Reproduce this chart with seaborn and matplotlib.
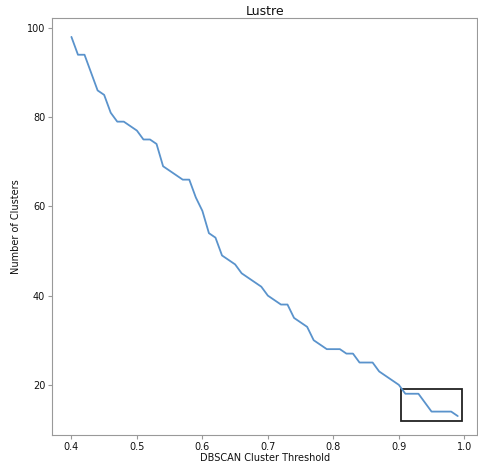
import matplotlib
matplotlib.use('Agg')
import matplotlib.pyplot as plt
from matplotlib.patches import Rectangle
import numpy as np
import pandas as pd
import seaborn as sns

# thresholds 0.40 .. 0.99
thresholds = [0.40, 0.41, 0.42, 0.43, 0.44, 0.45, 0.46, 0.47, 0.48, 0.49,
              0.50, 0.51, 0.52, 0.53, 0.54, 0.55, 0.56, 0.57, 0.58, 0.59,
              0.60, 0.61, 0.62, 0.63, 0.64, 0.65, 0.66, 0.67, 0.68, 0.69,
              0.70, 0.71, 0.72, 0.73, 0.74, 0.75, 0.76, 0.77, 0.78, 0.79,
              0.80, 0.81, 0.82, 0.83, 0.84, 0.85, 0.86, 0.87, 0.88, 0.89,
              0.90, 0.91, 0.92, 0.93, 0.94, 0.95, 0.96, 0.97, 0.98, 0.99]
n_clusters = [98, 94, 94, 90, 86, 85, 81, 79, 79, 78,
              77, 75, 75, 74, 69, 68, 67, 66, 66, 62,
              59, 54, 53, 49, 48, 47, 45, 44, 43, 42,
              40, 39, 38, 38, 35, 34, 33, 30, 29, 28,
              28, 28, 27, 27, 25, 25, 25, 23, 22, 21,
              20, 18, 18, 18, 16, 14, 14, 14, 14, 13]

# highlight box: x0, y0, width, height
box = (0.904, 12, 0.092, 7.1)

df = pd.DataFrame({'threshold': thresholds, 'clusters': n_clusters})

sns.set_style('ticks')
plt.rcParams['font.family'] = ['DejaVu Sans']

fig = plt.figure(figsize=(4.78, 4.66), dpi=100)
ax = fig.add_axes([0.109, 0.0665, 0.889, 0.895])

sns.lineplot(data=df, x='threshold', y='clusters', color='#5a93cc', linewidth=1.3, ax=ax)
ax.add_patch(Rectangle((box[0], box[1]), box[2], box[3], fill=False,
                       edgecolor='#222222', linewidth=1.3))

ax.set_xticks([0.4, 0.5, 0.6, 0.7, 0.8, 0.9, 1.0])
ax.set_yticks([20, 40, 60, 80, 100])
ax.tick_params(labelsize=7, length=3, pad=2, color='#999999', labelcolor='#111111')
for s in ax.spines.values():
    s.set_color('#999999')
ax.set_xlabel('DBSCAN Cluster Threshold', fontsize=7, labelpad=1, color='#111111')
ax.set_ylabel('Number of Clusters', fontsize=7, labelpad=4, color='#111111')
ax.set_title('Lustre', fontsize=9, pad=2, color='#111111')

fig.savefig('out.png', dpi=100)
